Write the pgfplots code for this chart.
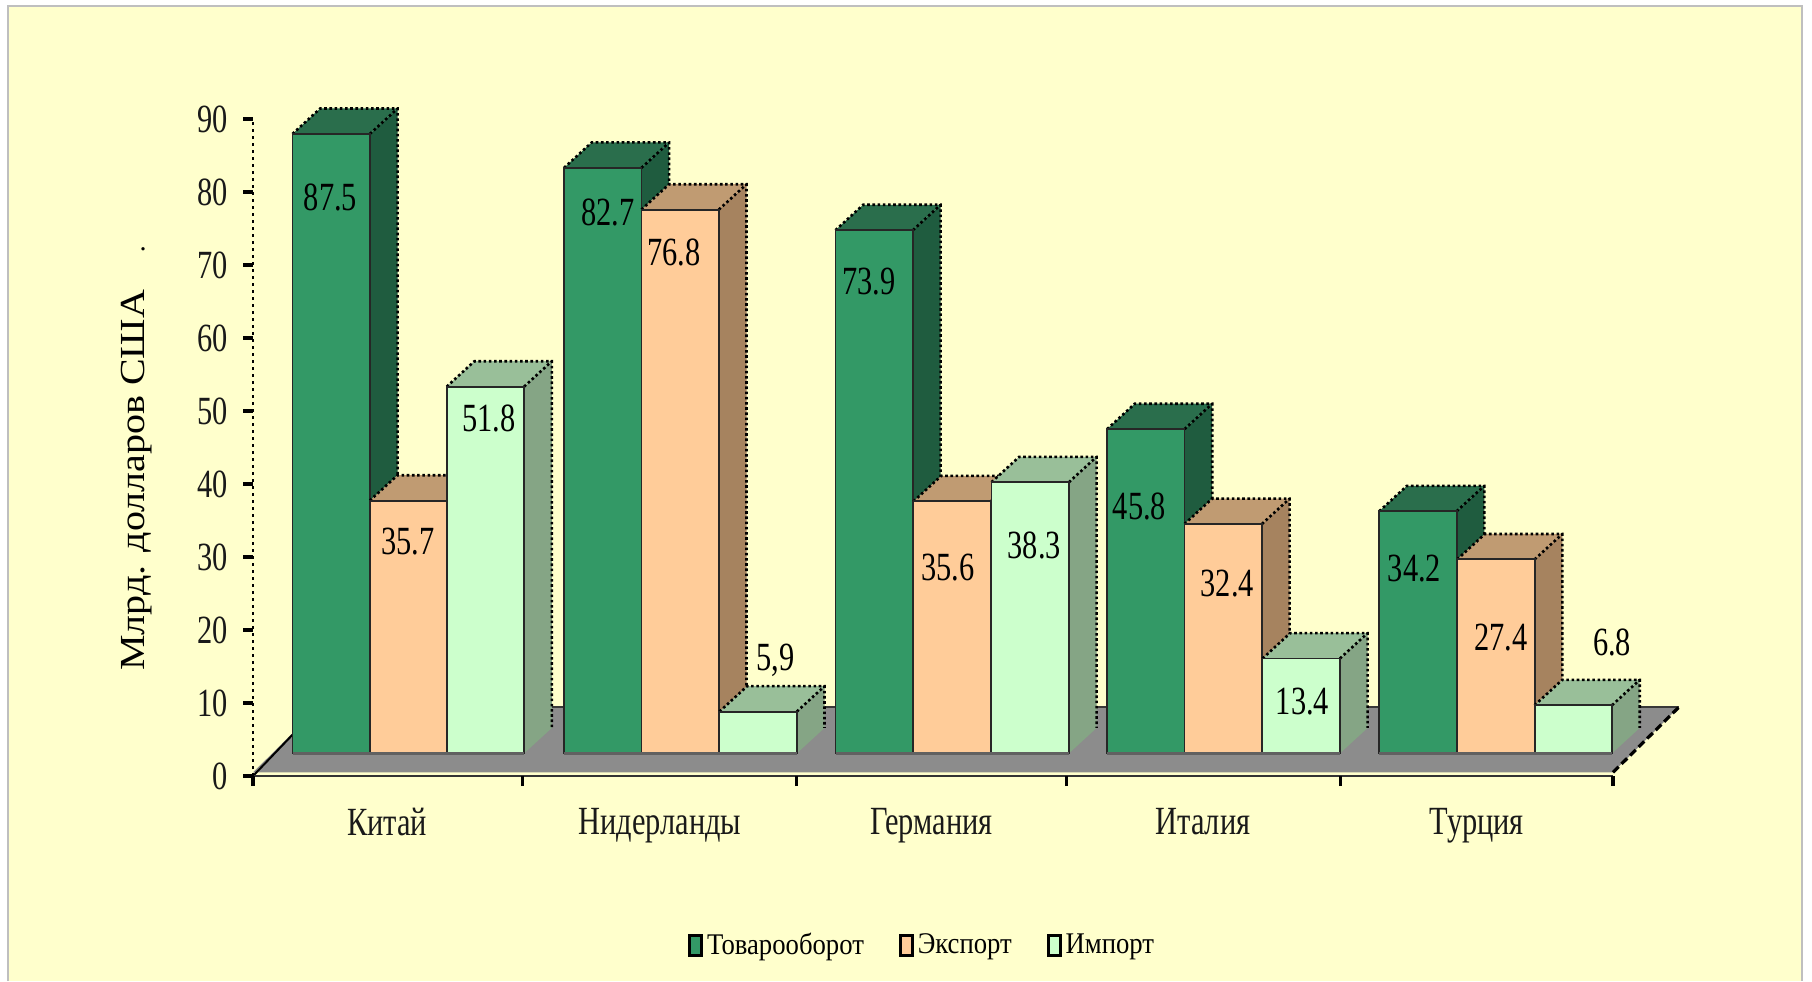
\documentclass[border=0pt]{standalone}
\usepackage{graphicx}
\usepackage{pgfplots}
\pgfplotsset{compat=1.18}
\usepackage{fontspec}
\setmainfont[FakeStretch=0.76]{Liberation Serif}
\newfontfamily\rotfont{Liberation Serif}
\newfontfamily\legfont[FakeStretch=0.89]{Liberation Serif}
\definecolor{bgc}{HTML}{FFFFCC}
\definecolor{gf}{HTML}{339966}\definecolor{gt}{HTML}{2A6E4C}\definecolor{gs}{HTML}{1F5C3F}
\definecolor{of}{HTML}{FFCC99}\definecolor{ot}{HTML}{C09B72}\definecolor{os}{HTML}{A6835F}
\definecolor{lf}{HTML}{CCFFCC}\definecolor{lt}{HTML}{99BF99}\definecolor{ls}{HTML}{85A585}
\definecolor{fl}{HTML}{8C8C8C}
\newcommand\cube[4]{%
 \pgfmathsetmacro\xa{#1-38.7}\pgfmathsetmacro\xb{#1+38.7}%
 \pgfmathsetmacro\xc{#1-11}\pgfmathsetmacro\xd{#1+66.4}%
 \pgfmathsetmacro\yt{#2+3.59}%
 \addplot[forget plot,fill=#4,draw=none] coordinates {(\xb,0)(\xb,#2)(\xd,\yt)(\xd,3.59)} -- cycle;
 \addplot[forget plot,fill=#3,draw=none] coordinates {(\xa,#2)(\xb,#2)(\xd,\yt)(\xc,\yt)} -- cycle;
 \addplot[forget plot,black,line width=1.3pt,dash pattern=on 1.3pt off 1.3pt] coordinates {(\xa,#2)(\xc,\yt)(\xd,\yt)(\xd,3.59)};
 \addplot[forget plot,black,line width=1.3pt,dash pattern=on 1.3pt off 1.3pt] coordinates {(\xb,#2)(\xd,\yt)};
}
\begin{document}
\begin{tikzpicture}[x=1pt,y=1pt]
\fill[white] (0,0) rectangle (906,490.5);
\fill[bgc] (4,0) rectangle (901,487.5);
\draw[black!25,line width=.6pt] (4,0) -- (4,487.5) -- (901,487.5) -- (901,0);
\begin{axis}[at={(0,0)},anchor=south west,scale only axis,width=906pt,height=490.5pt,
  xmin=-253,xmax=1559,ymin=-28.08,ymax=106.3,
  axis lines=middle,axis line style={draw=none},
  hide obscured x ticks=false,hide obscured y ticks=false,
  xtick={0,269.3,543.2,813.6,1087.5,1360},xticklabels={,,,,,},
  extra x ticks={134,407,678.4,950,1223.9},
  extra x tick labels={Китай,Нидерланды,Германия,Италия,Турция},
  extra x tick style={tick style={draw=none},xticklabel style={yshift=-7.5pt}},
  ytick={0,10,...,90},
  tick style={black,line width=1.6pt},
  tick align=outside,major tick length=5pt,
  ticklabel style={font=\fontsize{20}{24}\selectfont,text=black!90},
  /pgf/number format/assume math mode=true,
  yticklabel style={xshift=-4pt},
  axis on top,clip=false]
\addplot[fill=fl,draw=none] coordinates {(0,0.5)(1360,0.5)(1426,9.45)(66,9.45)} -- cycle;
\addplot[black!60!fl,line width=1pt] coordinates {(66,9.45)(1426,9.45)};
\addplot[black,line width=1.6pt,dash pattern=on 4pt off 2pt] coordinates {(1360,0.5)(1426,9.45)};
\addplot[black,line width=1pt] coordinates {(0,0)(66,9.45)};
\addplot[black!80,line width=1.2pt] coordinates {(0,0)(1360,0)};
\addplot[black,line width=1.3pt,dash pattern=on 1.5pt off 2pt] coordinates {(0,0)(0,90)};
\node[rotate=90,font=\rotfont\fontsize{20}{24}\selectfont] at (axis cs:-116,40.5) {\scalebox{1}[0.88]{Млрд. долларов США}};
\node[font=\rotfont\fontsize{14}{16}\selectfont] at (axis cs:-110,72.2) {.};
\end{axis}
\begin{axis}[at={(0,0)},anchor=south west,scale only axis,width=906pt,height=490.5pt,
  xmin=-253,xmax=1559,ymin=-32.15,ymax=106.41,hide axis,clip=false,
  legend columns=3,
  legend style={at={(axis cs:435,-27.1)},anchor=west,draw=none,fill=none,
    font=\legfont\fontsize{15}{17}\selectfont,inner sep=0pt,
    /tikz/every even column/.append style={column sep=15.5pt}},
  legend cell align=left]
\cube{78.2}{87.5}{gt}{gs}\cube{349.7}{82.7}{gt}{gs}\cube{621.2}{73.9}{gt}{gs}\cube{892.8}{45.8}{gt}{gs}\cube{1164.9}{34.2}{gt}{gs}
\addplot[ybar,bar width=77.4,bar shift=0pt,fill=gf,draw=black!85,line width=.9pt,
  legend image code/.code={\draw[fill=gf,draw=black,line width=1.4pt] (0,-5pt) rectangle (6pt,5pt);}]
  coordinates {(78.2,87.5)(349.7,82.7)(621.2,73.9)(892.8,45.8)(1164.9,34.2)};
\addlegendentry{Товарооборот}
\cube{155.5}{35.7}{ot}{os}\cube{427.1}{76.8}{ot}{os}\cube{699.2}{35.6}{ot}{os}\cube{970.2}{32.4}{ot}{os}\cube{1242.9}{27.4}{ot}{os}
\addplot[ybar,bar width=77.4,bar shift=0pt,fill=of,draw=black!85,line width=.9pt,
  legend image code/.code={\draw[fill=of,draw=black,line width=1.4pt] (0,-5pt) rectangle (6pt,5pt);}]
  coordinates {(155.5,35.7)(427.1,76.8)(699.2,35.6)(970.2,32.4)(1242.9,27.4)};
\addlegendentry{Экспорт}
\cube{232.4}{51.8}{lt}{ls}\cube{505.1}{5.9}{lt}{ls}\cube{777.2}{38.3}{lt}{ls}\cube{1048.2}{13.4}{lt}{ls}\cube{1320.3}{6.8}{lt}{ls}
\addplot[ybar,bar width=77.4,bar shift=0pt,fill=lf,draw=black!85,line width=.9pt,
  legend image code/.code={\draw[fill=lf,draw=black,line width=1.4pt] (0,-5pt) rectangle (6pt,5pt);}]
  coordinates {(232.4,51.8)(505.1,5.9)(777.2,38.3)(1048.2,13.4)(1320.3,6.8)};
\addlegendentry{Импорт}
\addplot[forget plot,black!62,line width=1.3pt] coordinates {(39.5,0)(271.1,0)};
\addplot[forget plot,black!62,line width=1.3pt] coordinates {(311,0)(543.8,0)};
\addplot[forget plot,black!62,line width=1.3pt] coordinates {(582.5,0)(815.9,0)};
\addplot[forget plot,black!62,line width=1.3pt] coordinates {(854.1,0)(1086.9,0)};
\addplot[forget plot,black!62,line width=1.3pt] coordinates {(1126.2,0)(1359,0)};
\tikzset{lab/.style={font=\fontsize{20}{24}\selectfont,text=black,inner sep=0pt}}
\node[lab] at (axis cs:77.5,78.5) {87.5};
\node[lab] at (axis cs:354.9,76.4) {82.7};
\node[lab] at (axis cs:420.7,70.8) {76.8};
\node[lab] at (axis cs:616,66.7) {73.9};
\node[lab] at (axis cs:235.8,47.3) {51.8};
\node[lab] at (axis cs:154.9,29.9) {35.7};
\node[lab] at (axis cs:694.6,26.3) {35.6};
\node[lab] at (axis cs:781.3,29.4) {38.3};
\node[lab] at (axis cs:886.4,34.9) {45.8};
\node[lab] at (axis cs:974.2,24) {32.4};
\node[lab] at (axis cs:1049.4,7.3) {13.4};
\node[lab] at (axis cs:1161.5,26.1) {34.2};
\node[lab] at (axis cs:1248.1,16.3) {27.4};
\node[lab] at (axis cs:1359,15.7) {6.8};
\node[lab] at (axis cs:522.4,13.2) {5,9};
\end{axis}
\end{tikzpicture}
\end{document}
